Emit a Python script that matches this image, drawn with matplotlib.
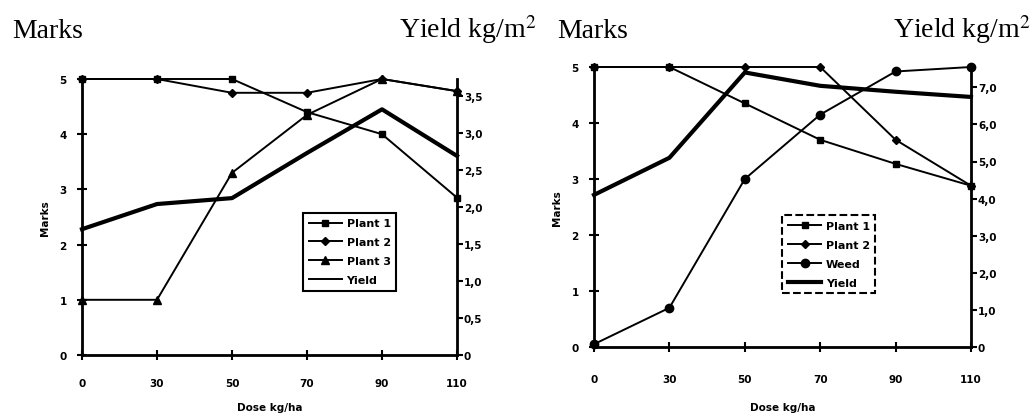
import matplotlib.pyplot as plt
import numpy as np

plt.rcParams["mathtext.fontset"] = "stix"

# dose categories (evenly spaced on the chart)
doses = ["0", "30", "50", "70", "90", "110"]

# left chart
plant1_a = [5.0, 5.0, 5.0, 4.4, 4.0, 2.85]
plant2_a = [5.0, 5.0, 4.75, 4.75, 5.0, 4.78]
plant3_a = [1.0, 1.0, 3.3, 4.35, 5.0, 4.78]
yield_a = [1.70, 2.04, 2.12, 2.73, 3.32, 2.69]

# right chart
plant1_b = [5.0, 5.0, 4.35, 3.7, 3.27, 2.88]
plant2_b = [5.0, 5.0, 5.0, 5.0, 3.7, 2.88]
weed_b = [0.05, 0.7, 3.0, 4.15, 4.92, 5.0]
yield_b = [4.1, 5.1, 7.4, 7.04, 6.88, 6.74]

yticks_a = [0, 0.5, 1.0, 1.5, 2.0, 2.5, 3.0, 3.5]
yticks_b = [0, 1, 2, 3, 4, 5, 6, 7]

tick_font = {"family": "DejaVu Sans", "weight": "bold", "size": 7.5}
leg_font = {"family": "DejaVu Sans", "weight": "bold", "size": 8}


def comma(v):
    if v == 0:
        return "0"
    return f"{v:.1f}".replace(".", ",")


def setup(ax, ax2, ytop2, yt2, xpad=13, xlpad=10):
    x = np.arange(len(doses))
    ax.set_xlim(0, len(doses) - 1)
    ax.set_ylim(0, 5)
    ax.set_xticks(x)
    ax.set_xticklabels(doses, fontdict=tick_font)
    ax.set_yticks(range(6))
    ax.set_yticklabels([str(i) for i in range(6)], fontdict=tick_font)
    ax.tick_params(axis="both", direction="inout", length=7, width=1.5)
    ax.tick_params(axis="y", pad=7.5)
    ax.tick_params(axis="x", pad=xpad)
    ax.set_xlabel("Dose kg/ha", fontdict=tick_font, labelpad=xlpad)
    ax.set_ylabel("Marks", fontdict=tick_font, labelpad=6.5)
    ax.spines["top"].set_visible(False)
    ax2.spines["top"].set_visible(False)
    for sp in ("left", "bottom"):
        ax.spines[sp].set_linewidth(2)
    ax2.spines["right"].set_linewidth(2)
    ax2.set_ylim(0, ytop2)
    ax2.set_yticks(yt2)
    ax2.set_yticklabels([comma(v) for v in yt2], fontdict=tick_font)
    ax2.tick_params(axis="y", direction="out", length=4, width=1.5, pad=1)


def add_legend(ax, anchor, dashed=False):
    leg = ax.legend(loc="upper left", bbox_to_anchor=anchor, prop=leg_font,
                    fancybox=False, edgecolor="black", framealpha=1,
                    handlelength=3, labelspacing=0.8, borderpad=0.5,
                    handletextpad=0.4)
    leg.get_frame().set_linewidth(1.5)
    if dashed:
        leg.get_frame().set_linestyle("--")


fig = plt.figure(figsize=(10.36, 4.14), dpi=100)
x = np.arange(len(doses))

# ---- left chart
ax = fig.add_axes([82 / 1036, 1 - 356 / 414, 375 / 1036, 276 / 414])
ax2 = ax.twinx()
ax.plot(x, plant1_a, "k-", marker="s", ms=5, lw=1.4, label="Plant 1", clip_on=False)
ax.plot(x, plant2_a, "k-", marker="D", ms=4, lw=1.4, label="Plant 2", clip_on=False)
ax.plot(x, plant3_a, "k-", marker="^", ms=6, lw=1.4, label="Plant 3", clip_on=False)
ax2.plot(x, yield_a, "k-", lw=3, clip_on=False)
ax.plot([], [], "k-", lw=1.4, label="Yield")
setup(ax, ax2, 276 / 74, yticks_a)
add_legend(ax, (0.575, 0.535))

# ---- right chart
bx = fig.add_axes([594 / 1036, 1 - 348 / 414, 377 / 1036, 280 / 414])
bx2 = bx.twinx()
bx.plot(x, plant1_b, "k-", marker="s", ms=5, lw=1.4, label="Plant 1", clip_on=False)
bx.plot(x, plant2_b, "k-", marker="D", ms=4, lw=1.4, label="Plant 2", clip_on=False)
bx.plot(x, weed_b, "k-", marker="o", ms=6, lw=1.4, label="Weed", clip_on=False)
bx2.plot(x, yield_b, "k-", lw=3, clip_on=False)
bx.plot([], [], "k-", lw=3, label="Yield")
setup(bx, bx2, 280 / 37.1, yticks_b, xpad=16, xlpad=13)
add_legend(bx, (0.485, 0.49), dashed=True)

# ---- titles over the axes
serif = {"family": "Liberation Serif", "size": 20}
fig.text(12 / 1036, 1 - 38 / 414, "Marks", ha="left", va="baseline", fontdict=serif)
fig.text(536 / 1036, 1 - 38 / 414, r"Yield kg/m$^{2}$", ha="right", va="baseline", fontdict=serif)
fig.text(557 / 1036, 1 - 38 / 414, "Marks", ha="left", va="baseline", fontdict=serif)
fig.text(1030 / 1036, 1 - 38 / 414, r"Yield kg/m$^{2}$", ha="right", va="baseline", fontdict=serif)

fig.savefig("out.png", dpi=100)
